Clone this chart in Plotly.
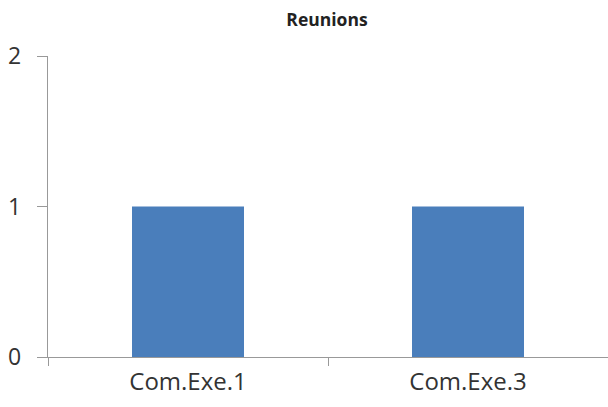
import plotly.graph_objects as go

categories = ["Com.Exe.1", "Com.Exe.3"]
values = [1, 1]
y_ticks = [0, 1, 2]

fig = go.Figure(go.Bar(x=categories, y=values, width=0.4, marker=dict(color="#4a7ebb", line=dict(width=0))))

fig.update_layout(
    width=608, height=407,
    margin=dict(l=48, r=0, t=56, b=50),
    paper_bgcolor="white", plot_bgcolor="white",
    title=dict(text="<b>Reunions</b>", x=327/608, xanchor="center", y=1 - 20/407, yanchor="middle",
               font=dict(family="Open Sans", size=17.5, color="#222")),
    font=dict(family="Open Sans", size=24, color="#333"),
    showlegend=False,
)
fig.update_xaxes(
    showline=True, linecolor="#999", linewidth=1.3,
    ticks="outside", tickson="boundaries", ticklen=8, tickcolor="#999", tickwidth=1.3,
    showgrid=False, ticklabelstandoff=3, automargin=False,
)
fig.update_yaxes(
    range=[0, 2], tickvals=y_ticks, showline=True, linecolor="#999", linewidth=1.3,
    ticks="outside", ticklen=10, tickcolor="#999", tickwidth=1.3,
    showgrid=False, zeroline=False, ticklabelstandoff=11, automargin=False,
    tickfont=dict(size=23),
)

fig.write_html(
    "out.html",
    config={"displayModeBar": False},
    post_script="document.body.style.margin='0';document.body.style.overflow='hidden';",
)
